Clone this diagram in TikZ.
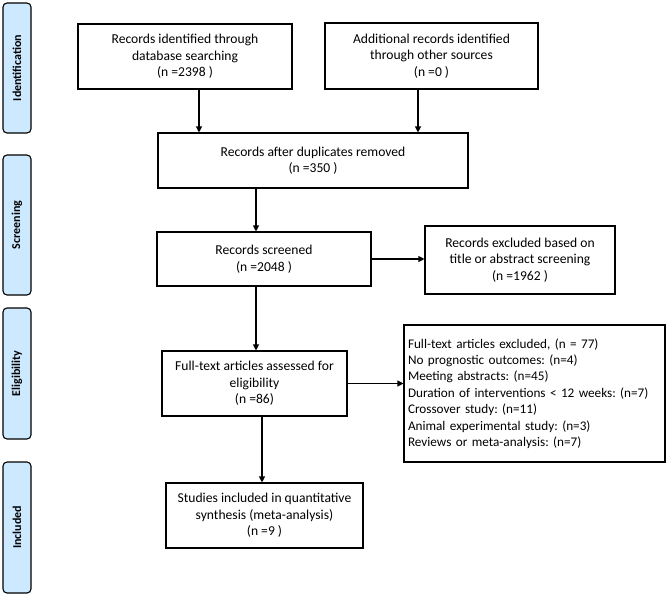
\documentclass[tikz,border=0pt]{standalone}
\usepackage{fontspec}
\setmainfont{Carlito}
\frenchspacing
\usetikzlibrary{arrows.meta}
\definecolor{phase}{HTML}{CCE9FF}
\tikzset{
  box/.style={draw, line width=1.1pt, align=center, inner sep=2pt,
    font=\fontsize{13.6}{16.5}\selectfont},
  phasebox/.style={draw, line width=1.1pt, fill=phase, rounded corners=4pt,
    rotate=90, minimum width=#1, minimum height=28pt, inner sep=0pt,
    font=\fontsize{12}{14}\selectfont\bfseries},
  arr/.style={line width=1.1pt, -{Triangle[length=6pt,width=6pt]}}
}
\begin{document}
\begin{tikzpicture}[x=1pt,y=-1pt]
\useasboundingbox (0,0) rectangle (667,595);
% phases
\node[phasebox=130pt] (ph1) at (17,68) {Identification};
\node[phasebox=140pt] (ph2) at (17,225) {Screening};
\node[phasebox=131pt] (ph3) at (17,373.5) {Eligibility};
\node[phasebox=131pt] (ph4) at (17,527.5) {Included};
% boxes
\node[box, minimum width=214pt, minimum height=65pt] (b1) at (185,56.5)
  {Records identified through\\database searching\\(n =2398 )};
\node[box, minimum width=213pt, minimum height=66pt] (b2) at (431.5,56)
  {Additional records identified\\through other sources\\(n =0 )};
\node[box, minimum width=310pt, minimum height=55pt] (b3) at (313,160.5)
  {Records after duplicates removed\\(n =350 )};
\node[box, minimum width=214pt, minimum height=54pt] (b4) at (264,259)
  {Records screened\\(n =2048 )};
\node[box, minimum width=190pt, minimum height=68pt] (b5) at (520,260)
  {Records excluded based on\\title or abstract screening\\(n =1962 )};
\node[box, minimum width=185pt, minimum height=65pt] (b6) at (254.5,383.5)
  {Full-text articles assessed for\\eligibility\\(n =86)};
\node[box, minimum width=261pt, minimum height=137pt, align=left, inner xsep=4pt,
  text width=253pt, font=\fontsize{13.2}{16.4}\selectfont] (b7) at (534.5,393.5)
  {Full-text articles excluded, (n = 77)\\
   No prognostic outcomes: (n=4)\\
   Meeting abstracts: (n=45)\\
   Duration of interventions < 12 weeks: (n=7)\\
   Crossover study: (n=11)\\
   Animal experimental study: (n=3)\\
   Reviews or meta-analysis: (n=7)\\[6pt]};
\node[box, minimum width=197pt, minimum height=65pt] (b8) at (264.5,515.5)
  {Studies included in quantitative\\synthesis (meta-analysis)\\(n =9 )};
% arrows
\draw[arr] ([xshift=14pt]b1.south) -- ([xshift=14pt]b1.south |- b3.north);
\draw[arr] ([xshift=-13.5pt]b2.south) -- ([xshift=-13.5pt]b2.south |- b3.north);
\draw[arr] ([xshift=-57pt]b3.south) -- ([xshift=-57pt]b3.south |- b4.north);
\draw[arr] ([xshift=-8pt]b4.south) -- ([xshift=-8pt]b4.south |- b6.north);
\draw[arr] ([xshift=7.5pt]b6.south) -- ([xshift=7.5pt]b6.south |- b8.north);
\draw[arr] (b4.east) -- (b4.east -| b5.west);
\draw[arr] (b6.east) -- (b6.east -| b7.west);
\end{tikzpicture}
\end{document}
